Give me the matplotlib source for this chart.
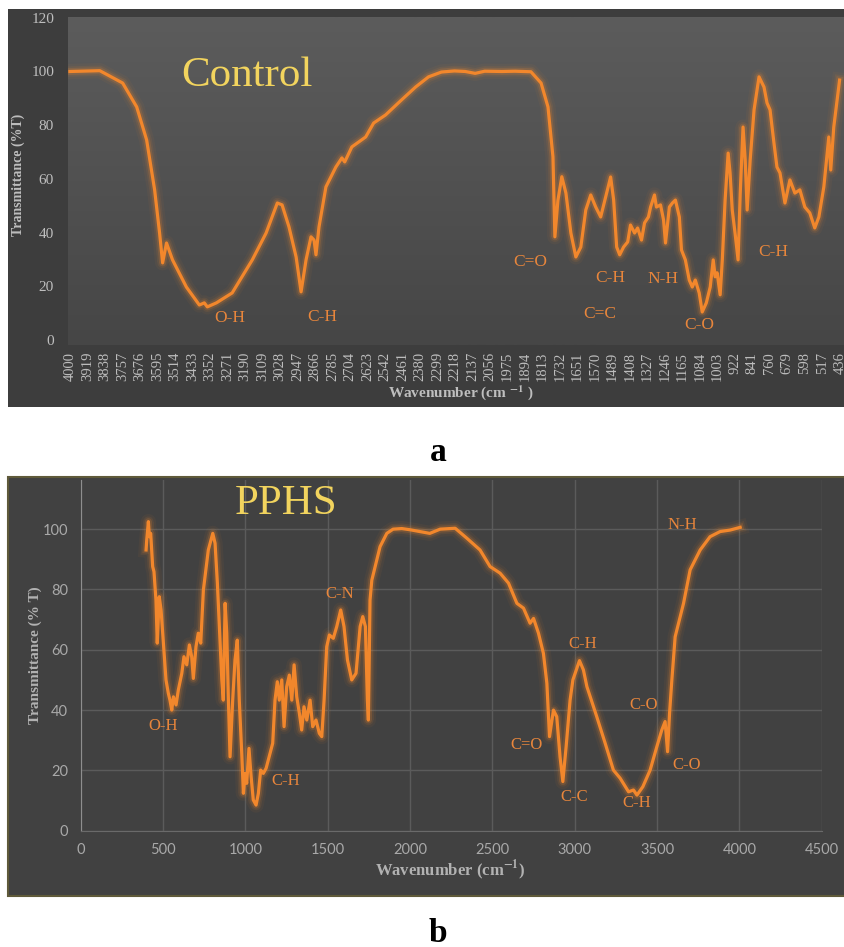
import matplotlib
matplotlib.use('Agg')
import matplotlib.pyplot as plt
from matplotlib.patches import Rectangle
from matplotlib.colors import LinearSegmentedColormap
import numpy as np

# ---------------- panel a : Control ----------------
ctrl_wn = [4000, 3862, 3756, 3691, 3645, 3608, 3585, 3571, 3553, 3525, 3461, 3401, 3378, 3364,
           3322, 3249, 3156, 3092, 3040, 3018, 2986, 2953, 2930, 2907, 2884, 2870, 2861, 2847,
           2815, 2769, 2741, 2728, 2695, 2631, 2594, 2539, 2465, 2400, 2340, 2280, 2220, 2170,
           2124, 2080, 2000, 1940, 1866, 1819, 1787, 1764, 1755, 1741, 1723, 1704, 1681, 1658,
           1635, 1612, 1589, 1566, 1543, 1520, 1497, 1483, 1469, 1455, 1437, 1418, 1405, 1386,
           1372, 1354, 1340, 1322, 1312, 1294, 1285, 1266, 1252, 1243, 1225, 1211, 1197, 1179,
           1169, 1151, 1133, 1119, 1105, 1087, 1073, 1054, 1036, 1022, 1013, 1004, 990, 980,
           967, 953, 944, 934, 921, 907, 897, 884, 874, 865, 851, 833, 810, 787, 773, 759, 741,
           727, 713, 690, 667, 644, 621, 598, 575, 552, 533, 510, 487, 478, 464, 437]
ctrl_t = [100, 100.3, 95.7, 86.8, 74.5, 55.9, 39.8, 28.7, 36.1, 29.8, 19.7, 13.0, 13.8, 12.3,
          13.8, 17.5, 29.8, 39.8, 51.0, 50.3, 42.1, 30.9, 17.9, 29.8, 38.4, 37.2, 31.7, 42.1,
          57.0, 64.4, 67.8, 66.3, 71.9, 75.6, 80.8, 83.8, 89.4, 94.2, 98.0, 99.8, 100.2, 100.0,
          99.3, 100.1, 100.0, 100.1, 99.9, 95.7, 86.8, 68.2, 38.4, 52.0, 60.8, 54.7, 39.8, 30.9,
          34.6, 48.4, 54.0, 49.5, 45.8, 53.3, 60.7, 52.1, 34.6, 31.7, 34.6, 36.5, 42.8, 39.8,
          41.7, 37.2, 43.6, 45.8, 49.5, 54.0, 49.5, 50.3, 44.7, 36.1, 49.5, 51.0, 52.1, 45.8,
          33.5, 29.8, 22.3, 19.7, 22.3, 17.5, 10.4, 13.8, 19.7, 29.8, 23.5, 25.0, 16.8, 29.8,
          52.1, 69.6, 62.2, 48.4, 39.8, 29.8, 54.7, 79.3, 67.0, 48.4, 67.0, 85.7, 98.0, 94.2,
          88.3, 85.7, 73.4, 64.4, 62.2, 51.0, 59.6, 54.7, 55.9, 49.5, 47.3, 41.7, 45.8, 57.0,
          75.6, 63.3, 79.3, 96.8]

ctrl_ticks = [4000, 3919, 3838, 3757, 3676, 3595, 3514, 3433, 3352, 3271, 3190, 3109, 3028,
              2947, 2866, 2785, 2704, 2623, 2542, 2461, 2380, 2299, 2218, 2137, 2056, 1975,
              1894, 1813, 1732, 1651, 1570, 1489, 1408, 1327, 1246, 1165, 1084, 1003, 922,
              841, 760, 679, 598, 517, 436]

ctrl_labels = ['O-H', 'C-H', 'C=O', 'C-H', 'N-H', 'C=C', 'C-O', 'C-H']
ctrl_label_wn = [3262, 2834, 1870, 1501, 1257, 1547, 1087, 745]
ctrl_label_t = [8.2, 8.6, 29.0, 23.0, 22.7, 9.7, 5.6, 32.8]

# ---------------- panel b : PPHS ----------------
pphs_wn = [397, 401, 411, 417, 425, 437, 445, 457, 465, 477, 488, 502, 518, 532, 542, 553,
           563, 579, 593, 614, 627, 644, 660, 674, 684, 700, 714, 729, 745, 775, 802, 816,
           830, 846, 857, 866, 877, 887, 897, 907, 923, 937, 951, 963, 978, 988, 998, 1008,
           1022, 1035, 1048, 1065, 1079, 1093, 1109, 1126, 1150, 1166, 1180, 1194, 1206, 1221,
           1235, 1251, 1267, 1282, 1296, 1312, 1328, 1342, 1356, 1373, 1393, 1409, 1429, 1449,
           1464, 1478, 1494, 1510, 1534, 1555, 1579, 1599, 1620, 1646, 1672, 1697, 1713, 1729,
           1741, 1747, 1757, 1768, 1788, 1818, 1859, 1897, 1950, 2000, 2061, 2120, 2183, 2274,
           2345, 2425, 2486, 2547, 2598, 2649, 2689, 2729, 2750, 2780, 2810, 2831, 2847, 2871,
           2891, 2911, 2928, 2948, 2972, 2989, 3029, 3053, 3074, 3134, 3185, 3235, 3276, 3327,
           3357, 3378, 3414, 3458, 3499, 3529, 3549, 3564, 3576, 3590, 3610, 3661, 3701, 3762,
           3822, 3883, 3944, 4005]
pphs_t = [93.1, 96.4, 102.5, 97.5, 98.6, 87.6, 85.9, 76.5, 62.2, 77.6, 73.2, 62.2, 50.0, 45.6,
          43.3, 40.0, 44.4, 41.7, 46.7, 52.2, 57.7, 55.0, 61.6, 57.7, 50.5, 61.0, 65.5, 62.2,
          79.8, 93.1, 98.6, 95.3, 82.1, 63.2, 50.0, 43.3, 75.4, 65.5, 43.3, 24.5, 43.3, 56.6,
          63.2, 43.3, 25.7, 12.4, 19.0, 15.7, 27.3, 17.9, 10.2, 8.5, 12.4, 20.1, 19.0, 20.7,
          25.7, 29.0, 43.3, 49.4, 43.3, 50.0, 34.5, 47.8, 51.6, 43.3, 55.0, 44.4, 38.9, 33.4,
          41.1, 36.7, 43.3, 34.5, 36.7, 32.3, 31.2, 43.3, 61.0, 64.9, 63.8, 67.7, 73.2, 67.7,
          56.6, 50.0, 52.2, 67.7, 71.0, 67.7, 43.3, 36.7, 76.5, 83.1, 87.6, 94.2, 98.6, 100.0,
          100.2, 99.8, 99.2, 98.6, 100.0, 100.3, 97.0, 93.1, 87.6, 85.4, 82.1, 75.4, 73.8, 68.8,
          70.4, 65.5, 58.8, 48.9, 31.2, 40.0, 37.8, 24.5, 16.3, 27.9, 43.3, 50.0, 56.4, 53.3,
          47.8, 37.8, 29.0, 20.1, 17.4, 12.9, 13.5, 11.8, 14.6, 20.1, 27.9, 33.4, 36.2, 26.2,
          38.9, 50.0, 64.3, 75.4, 86.5, 93.1, 97.5, 99.2, 99.7, 100.6]

pphs_labels = ['C-N', 'O-H', 'C-H', 'N-H', 'C-H', 'C-O', 'C=O', 'C-O', 'C-C', 'C-H']
pphs_label_wn = [1575, 502, 1247, 3651, 3049, 3418, 2705, 3677, 2997, 3378]
pphs_label_t = [78.5, 34.7, 16.5, 101.4, 62.0, 41.7, 28.5, 21.9, 11.2, 9.2]

ORANGE = '#F2872C'
LABEL_ORANGE = '#E8863C'
YELLOW = '#F2D45E'
GREY_TXT = '#BEBEBE'
SERIF = ['Liberation Serif', 'DejaVu Serif']

plt.rcParams['font.family'] = SERIF
plt.rcParams['mathtext.fontset'] = 'stix'

W, H = 845, 947
fig = plt.figure(figsize=(W / 100, H / 100), dpi=100)
fig.patch.set_facecolor('white')


def fx(x):
    return x / W


def fy(y):
    return 1 - y / H


def glow_plot(ax, x, y):
    for lw, a in [(11, 0.05), (7.5, 0.09), (5, 0.18)]:
        ax.plot(x, y, color=ORANGE, lw=lw, alpha=a, solid_joinstyle='round', zorder=2)
    ax.plot(x, y, color=ORANGE, lw=2.3, solid_joinstyle='round', zorder=3)


# ---- frame a ----
fig.add_artist(Rectangle((fx(8), fy(407)), fx(845 - 8), (407 - 9) / H,
                         transform=fig.transFigure, facecolor='#3D3D3D',
                         edgecolor='none', zorder=0))

ax1 = fig.add_axes([fx(68), fy(345), 1 - fx(68), (345 - 17) / H])
ax1.set_facecolor('none')
grad_cmap = LinearSegmentedColormap.from_list('bg', ['#464646', '#5C5C5C'])
ax1.imshow(np.linspace(0, 1, 256).reshape(-1, 1), extent=[0, 1, 0, 1],
           transform=ax1.transAxes, aspect='auto', cmap=grad_cmap, origin='lower', zorder=0)
glow_plot(ax1, ctrl_wn, ctrl_t)
ax1.set_xlim(4009, 412)
ax1.set_ylim(-1.9, 120.3)
for s in ax1.spines.values():
    s.set_visible(False)
ax1.set_xticks(ctrl_ticks)
ax1.set_xticklabels([str(t) for t in ctrl_ticks], rotation=90, fontsize=10.5, color=GREY_TXT)
ax1.set_yticks([0, 20, 40, 60, 80, 100, 120])
ax1.set_yticklabels(['0', '20', '40', '60', '80', '100', '120'], fontsize=11, color=GREY_TXT)
ax1.tick_params(axis='x', length=0, pad=5)
ax1.tick_params(axis='y', length=0, pad=10)

for txt, xw, yt in zip(ctrl_labels, ctrl_label_wn, ctrl_label_t):
    ax1.text(xw, yt, txt, color=LABEL_ORANGE, fontsize=12.5, ha='center', va='center', zorder=4)
ax1.text(3179, 98.5, 'Control', color=YELLOW, fontsize=31, ha='center', va='center', zorder=4)

fig.text(fx(18), fy(175), 'Transmittance (%T)', rotation=90, ha='center', va='center',
         fontsize=10, fontweight='bold', color=GREY_TXT)
fig.text(fx(461), fy(393), r'Wavenumber (cm $^{\mathbf{-1}}$ )', ha='center', va='center',
         fontsize=11, fontweight='bold', color=GREY_TXT)

fig.text(fx(438), fy(452), 'a', ha='center', va='center', fontsize=24, fontweight='bold',
         color='black')

# ---- frame b ----
fig.add_artist(Rectangle((fx(8), fy(896)), fx(845 - 8), (896 - 477) / H,
                         transform=fig.transFigure, facecolor='#414141',
                         edgecolor='#5F5A3A', lw=1.5, zorder=0))

ax2 = fig.add_axes([fx(80.7), fy(830.7), fx(821.7 - 80.7), (830.7 - 480) / H])
ax2.set_facecolor('none')
ax2.set_xlim(0, 4500)
ax2.set_ylim(0, 116.3)
ax2.set_xticks([0, 500, 1000, 1500, 2000, 2500, 3000, 3500, 4000, 4500])
ax2.set_yticks([0, 20, 40, 60, 80, 100])
ax2.grid(True, color='#5B5B5B', lw=1.0, zorder=0)
ax2.set_axisbelow(True)
for side in ['top', 'right']:
    ax2.spines[side].set_visible(False)
ax2.spines['left'].set_color('#8E8E8E')
ax2.spines['bottom'].set_color('#6A6A6A')
ax2.tick_params(length=0, pad=9, labelsize=10.5, labelcolor='#A9A9A9')
for lab in ax2.get_xticklabels() + ax2.get_yticklabels():
    lab.set_family(['Lato', 'DejaVu Sans'])

glow_plot(ax2, pphs_wn, pphs_t)
for txt, xw, yt in zip(pphs_labels, pphs_label_wn, pphs_label_t):
    ax2.text(xw, yt, txt, color=LABEL_ORANGE, fontsize=12, ha='center', va='center', zorder=4)
ax2.text(1245, 108.5, 'PPHS', color=YELLOW, fontsize=31, ha='center', va='center', zorder=4)

fig.text(fx(35), fy(655), 'Transmittance (% T)', rotation=90, ha='center', va='center',
         fontsize=11, fontweight='bold', color='#B2B2B2')
fig.text(fx(450), fy(870), r'Wavenumber (cm$^{\mathbf{-1}}$)', ha='center', va='center',
         fontsize=12, fontweight='bold', color='#B2B2B2')

fig.text(fx(438), fy(933), 'b', ha='center', va='center', fontsize=24, fontweight='bold',
         color='black')

fig.savefig('out.png', dpi=100)
